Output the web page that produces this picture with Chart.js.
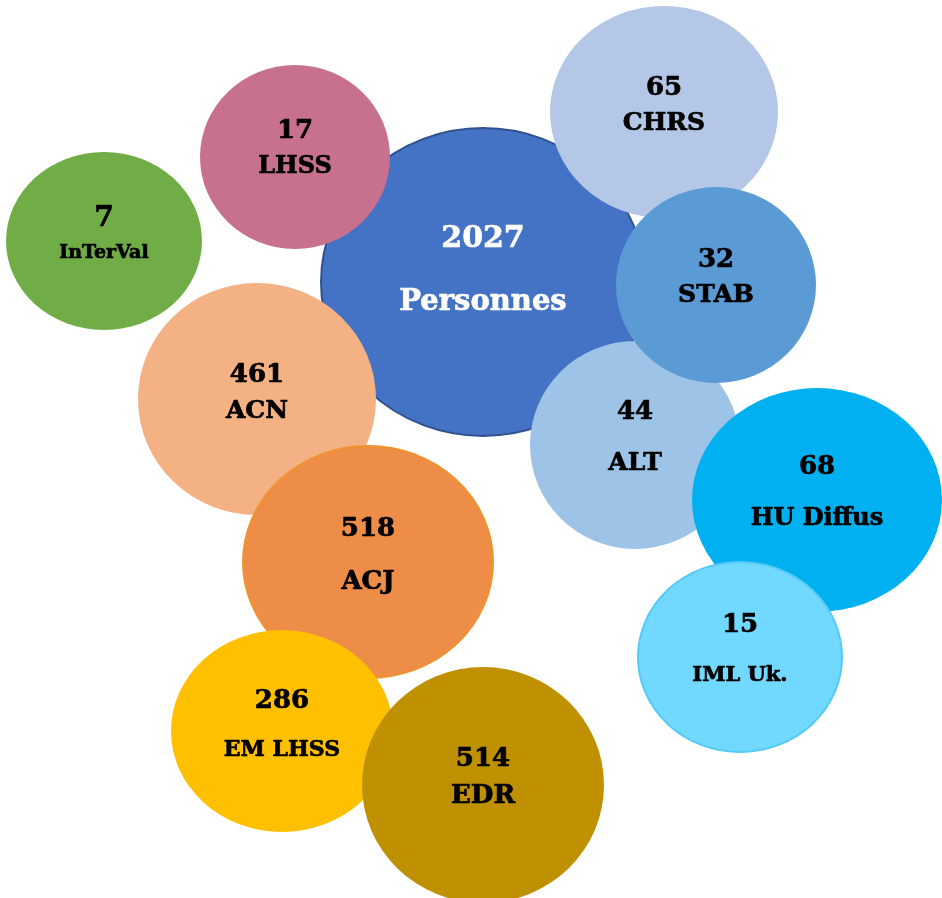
<!DOCTYPE html>
<html>
<head>
<meta charset="utf-8">
<script src="https://cdn.jsdelivr.net/npm/chart.js@4/dist/chart.umd.min.js"></script>
<style>
  html, body { margin: 0; padding: 0; background: #ffffff; }
  #wrap { width: 942px; height: 898px; position: relative; }
</style>
</head>
<body>
<div id="wrap"><canvas id="bubbles"></canvas></div>
<script>
// bubble names and counts, in drawing (back to front) order
const names  = ['Personnes', 'InTerVal', 'LHSS', 'CHRS', 'ALT', 'STAB', 'HU Diffus', 'IML Uk.', 'ACN', 'ACJ', 'EM LHSS', 'EDR'];
const counts = [2027, 7, 17, 65, 44, 32, 68, 15, 461, 518, 286, 514];

// ellipse centres and half-axes, in the chart's own units
const centerX = [483, 104, 295, 664, 635, 716, 817, 740, 257, 368, 282, 483];
const centerY = [282, 241, 157, 112, 445, 285, 500, 657, 399, 562, 731, 785];
const radiusX = [162,  98,  95, 114, 105, 100, 125, 102, 119, 125, 111, 121];
const radiusY = [154,  89,  92, 106, 104,  98, 112,  95, 116, 116, 101, 118];

// look
const fills   = ['#4472C4', '#70AD47', '#C8718F', '#B4C7E7', '#9DC3E6', '#5B9BD5', '#00B0F0', '#71D8FF', '#F4B183', '#ED8D48', '#FFC000', '#BF9000'];
const borders = ['#2F528F', null, null, null, null, null, null, '#55CAF6', null, '#F0922E', null, null];
const textColors = names.map((_, i) => i === 0 ? '#ffffff' : '#000000');
// text offsets from the centre (number, name) and font sizes
const numOffset  = [-43, -22, -26, -24, -33, -25, -33, -32, -24, -33, -30, -26];
const nameOffset = [ 20,  12,  10,  11,  18,  10,  19,  19,  12,  20,  19,  11];
const numSize    = [30, 28, 26, 26, 26, 26, 26, 26, 26, 26, 26, 26];
const nameSize   = [29, 19, 24, 25, 25, 25, 24, 21, 25, 26, 22, 26];

const FONT = '"DejaVu Serif", "Liberation Serif", serif';

// heavier text, closer to the original's Bookman-like face
function boldText(ctx, txt, x, y) {
  ctx.fillText(txt, x, y);
  ctx.strokeText(txt, x, y);
}

const ellipsePlugin = {
  id: 'ellipses',
  afterDatasetsDraw(chart) {
    const ctx = chart.ctx;
    const xs = chart.scales.x;
    const ys = chart.scales.y;
    const meta = chart.getDatasetMeta(0);
    meta.data.forEach((pt, i) => {
      const px = pt.x, py = pt.y;
      const rx = Math.abs(xs.getPixelForValue(centerX[i] + radiusX[i]) - px);
      const ry = Math.abs(ys.getPixelForValue(centerY[i] + radiusY[i]) - py);
      ctx.save();
      ctx.beginPath();
      ctx.ellipse(px, py, rx, ry, 0, 0, Math.PI * 2);
      ctx.fillStyle = fills[i];
      ctx.fill();
      if (borders[i]) {
        ctx.lineWidth = 2;
        ctx.strokeStyle = borders[i];
        ctx.stroke();
      }
      ctx.fillStyle = textColors[i];
      ctx.strokeStyle = textColors[i];
      ctx.lineWidth = 0.7;
      ctx.lineJoin = 'round';
      ctx.textAlign = 'center';
      ctx.textBaseline = 'middle';
      ctx.font = `bold ${numSize[i]}px ${FONT}`;
      boldText(ctx, String(counts[i]), px, py + numOffset[i]);
      ctx.font = `bold ${nameSize[i]}px ${FONT}`;
      boldText(ctx, names[i], px, py + nameOffset[i]);
      ctx.restore();
    });
  }
};

new Chart(document.getElementById('bubbles'), {
  type: 'scatter',
  data: {
    datasets: [{
      data: centerX.map((x, i) => ({ x, y: centerY[i] })),
      pointRadius: 0,
      pointHoverRadius: 0,
      clip: false
    }]
  },
  options: {
    responsive: true,
    maintainAspectRatio: false,
    animation: false,
    events: [],
    layout: { padding: 0 },
    plugins: { legend: { display: false }, tooltip: { enabled: false } },
    scales: {
      x: { type: 'linear', min: 0, max: 942, display: false },
      y: { type: 'linear', min: 0, max: 898, reverse: true, display: false }
    }
  },
  plugins: [ellipsePlugin]
});
</script>
</body>
</html>
